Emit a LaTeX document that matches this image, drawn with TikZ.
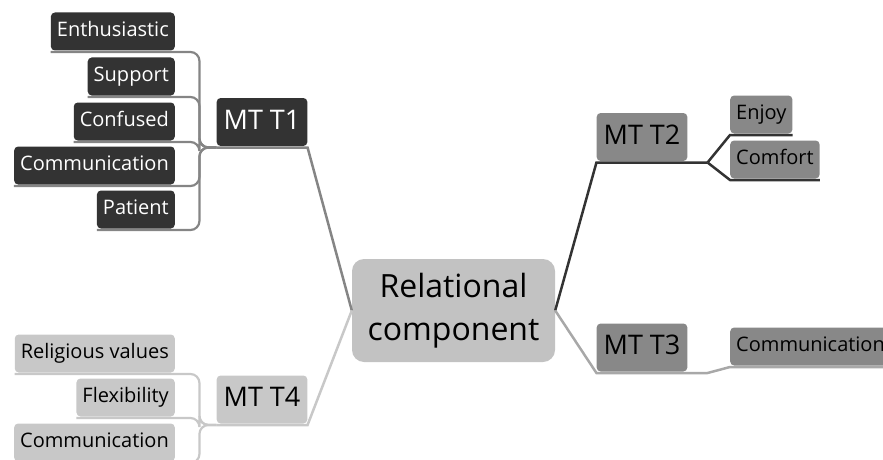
\documentclass[tikz,border=0pt]{standalone}
\usepackage{fontspec}
\setmainfont{Open Sans}
\usetikzlibrary{positioning}
\definecolor{darkbox}{HTML}{333333}
\definecolor{midbox}{HTML}{888888}
\definecolor{lightbox}{HTML}{C8C8C8}
\definecolor{centrebox}{HTML}{C2C2C2}
\definecolor{lineone}{HTML}{858585}
\definecolor{linetwo}{HTML}{333333}
\definecolor{linethree}{HTML}{A8A8A8}
\definecolor{linefour}{HTML}{C8C8C8}
\tikzset{
  topic/.style={rounded corners=4pt, inner xsep=7pt, inner ysep=11pt, outer ysep=1.5pt,
    text height=20pt, text depth=6pt, minimum width=90pt,
    font=\fontsize{27}{30}\selectfont},
  leaf/.style={rounded corners=4pt, inner xsep=6pt, inner ysep=9pt, outer ysep=1.5pt,
    text height=15pt, text depth=5pt, font=\fontsize{20}{23}\selectfont},
  trunk/.style={line width=2.5pt},
  twig/.style={line width=2.2pt, rounded corners=9pt},
}

\begin{document}
\begin{tikzpicture}[x=1pt,y=-1pt]
\clip (0,0) rectangle (883,460);

% centre
\node[fill=centrebox,rounded corners=12pt,minimum width=203pt,minimum height=103pt,
  align=center,font=\fontsize{32}{43}\selectfont] (rel) at (453.5,310.5)
  {Relational\\component};

% topics
\node[topic,fill=darkbox,text=white] (mt1) at (262,122) {MT T1};
\node[topic,fill=midbox] (mt2) at (642,137) {MT T2};
\node[topic,fill=midbox] (mt3) at (642,347.5) {MT T3};
\node[topic,fill=lightbox] (mt4) at (262,399.5) {MT T4};

% MT T1 leaves
\node[leaf,fill=darkbox,text=white,anchor=south east] (enth) at (175,52) {Enthusiastic};
\node[leaf,fill=darkbox,text=white,anchor=south east] (supp) at (175,97) {Support};
\node[leaf,fill=darkbox,text=white,anchor=south east] (conf) at (175,142) {Confused};
\node[leaf,fill=darkbox,text=white,anchor=south east] (comA) at (175,186) {Communication};
\node[leaf,fill=darkbox,text=white,anchor=south east] (pati) at (175,230) {Patient};

% MT T2 and MT T3 leaves
\node[leaf,fill=midbox,anchor=south west] (enjo) at (730,135) {Enjoy};
\node[leaf,fill=midbox,anchor=south west] (comf) at (730,180) {Comfort};
\node[leaf,fill=midbox,anchor=south west] (comB) at (730,367) {Communication};

% MT T4 leaves
\node[leaf,fill=lightbox,anchor=south east] (reli) at (175,374) {Religious values};
\node[leaf,fill=lightbox,anchor=south east] (flex) at (175,418) {Flexibility};
\node[leaf,fill=lightbox,anchor=south east] (comC) at (175,463) {Communication};

\coordinate (j1) at ([xshift=-17pt]mt1.south west);
\coordinate (j4) at ([xshift=-17pt]mt4.south west);
\coordinate (f2) at ([xshift=20pt]mt2.south east);
\coordinate (f3) at ([xshift=20pt]mt3.south east);

% connectors
\draw[trunk,lineone] (mt1.south west) -- (mt1.south east) -- (rel.west);
\draw[twig,lineone] (enth.south west) -- (enth.south east) -| (j1) -- (mt1.south west);
\draw[twig,lineone] (supp.south west) -- (supp.south east) -| (j1) -- (mt1.south west);
\draw[twig,lineone] (conf.south west) -- (conf.south east) -| (j1) -- (mt1.south west);
\draw[twig,lineone] (comA.south west) -- (comA.south east) -| (j1) -- (mt1.south west);
\draw[twig,lineone] (pati.south west) -- (pati.south east) -| (j1) -- (mt1.south west);

\draw[trunk,linetwo] (rel.east) -- (mt2.south west) -- (mt2.south east) -- (f2);
\draw[trunk,linetwo] (f2) -- (enjo.south west) -- (enjo.south east);
\draw[trunk,linetwo] (f2) -- (comf.south west) -- (comf.south east);

\draw[trunk,linethree] (rel.east) -- (mt3.south west) -- (mt3.south east) -- (f3)
  -- (comB.south west) -- (comB.south east);

\draw[trunk,linefour] (rel.west) -- (mt4.south east) -- (mt4.south west);
\draw[twig,linefour] (reli.south west) -- (reli.south east) -| (j4) -- (mt4.south west);
\draw[twig,linefour] (flex.south west) -- (flex.south east) -| (j4) -- (mt4.south west);
\draw[twig,linefour] (comC.south west) -- (comC.south east) -| (j4) -- (mt4.south west);
\end{tikzpicture}
\end{document}
